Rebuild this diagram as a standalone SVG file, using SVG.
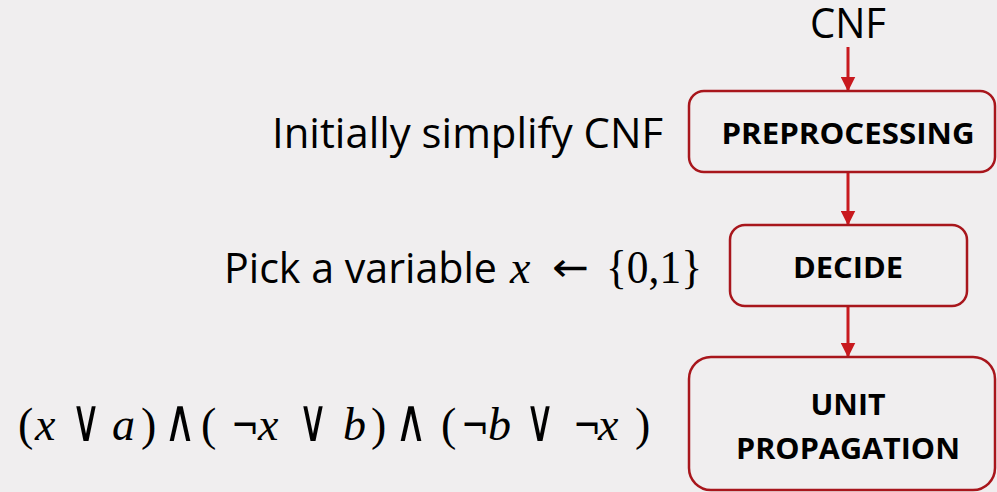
<svg xmlns="http://www.w3.org/2000/svg" width="997" height="492" viewBox="0 0 997 492">
<style>
.box{fill:none;stroke:#a8161c;stroke-width:2.5}
.lbl{font-family:"Open Sans","Liberation Sans",Arial,sans-serif;font-weight:bold;font-size:29px;fill:#000;text-anchor:middle}
.side{font-family:"Open Sans","Liberation Sans",sans-serif;font-size:42px;fill:#000}
.math{font-family:"Liberation Serif","DejaVu Serif",serif;font-size:46px;fill:#000}
.it{font-style:italic}
.op{font-family:"DejaVu Sans",sans-serif;font-size:40px;fill:#000}
.vw{font-family:"DejaVu Sans",sans-serif;font-size:60px;fill:#000;text-anchor:middle}
.conn{stroke:#c8191e;stroke-width:3;fill:none}
</style>
<defs>
<marker id="ah" viewBox="0 0 10 10" refX="9" refY="5" markerWidth="5" markerHeight="5" orient="auto" markerUnits="strokeWidth">
<path d="M0,0 L10,5 L0,10 Z" fill="#c8191e"/>
</marker>
</defs>
<rect width="997" height="492" fill="#f0eeef"/>
<g id="connectors">
<line class="conn" x1="848" y1="47" x2="848" y2="90" marker-end="url(#ah)"/>
<line class="conn" x1="848" y1="172" x2="848" y2="224" marker-end="url(#ah)"/>
<line class="conn" x1="848" y1="306" x2="848" y2="356" marker-end="url(#ah)"/>
</g>
<g id="cnf"><text class="side" x="848" y="38" text-anchor="middle" font-size="38" textLength="76" lengthAdjust="spacingAndGlyphs">CNF</text></g>
<g id="preprocessing">
<rect class="box" x="689" y="91" width="306" height="81" rx="15"/>
<text class="lbl" x="848" y="144" textLength="253" lengthAdjust="spacingAndGlyphs">PREPROCESSING</text>
</g>
<g id="decide">
<rect class="box" x="730" y="225" width="237" height="81" rx="15"/>
<text class="lbl" x="848" y="278" textLength="110" lengthAdjust="spacingAndGlyphs">DECIDE</text>
</g>
<g id="unitprop">
<rect class="box" x="689" y="357" width="306" height="133" rx="22"/>
<text class="lbl" x="848" y="415" textLength="75" lengthAdjust="spacingAndGlyphs">UNIT</text>
<text class="lbl" x="848" y="459" textLength="224" lengthAdjust="spacingAndGlyphs">PROPAGATION</text>
</g>
<g id="labels">
<text class="side" x="272" y="148" textLength="391" lengthAdjust="spacingAndGlyphs">Initially simplify CNF</text>
<text class="side" x="224" y="283" textLength="273" lengthAdjust="spacingAndGlyphs">Pick a variable</text>
<text class="math it" x="510" y="283">x</text>
<text class="op" x="552" y="281" textLength="37" lengthAdjust="spacingAndGlyphs">←</text>
<text class="math" x="606" y="283" textLength="96" lengthAdjust="spacingAndGlyphs">{0,1}</text>
</g>
<g id="formula">
<text class="math" x="18" y="440">(</text>
<text class="math it" x="35" y="440">x</text>
<text class="vw" x="86" y="441" textLength="30" lengthAdjust="spacingAndGlyphs">∨</text>
<text class="math it" x="112" y="440">a</text>
<text class="math" x="141" y="440">)</text>
<text class="vw" x="180" y="441" textLength="32" lengthAdjust="spacingAndGlyphs">∧</text>
<text class="math" x="201" y="440">(</text>
<text class="op" x="231" y="440" textLength="28" lengthAdjust="spacingAndGlyphs">¬</text>
<text class="math it" x="258" y="440">x</text>
<text class="vw" x="313" y="441" textLength="30" lengthAdjust="spacingAndGlyphs">∨</text>
<text class="math it" x="343" y="440">b</text>
<text class="math" x="371" y="440">)</text>
<text class="vw" x="411" y="441" textLength="32" lengthAdjust="spacingAndGlyphs">∧</text>
<text class="math" x="441" y="440">(</text>
<text class="op" x="461" y="440" textLength="28" lengthAdjust="spacingAndGlyphs">¬</text>
<text class="math it" x="488" y="440">b</text>
<text class="vw" x="540" y="441" textLength="30" lengthAdjust="spacingAndGlyphs">∨</text>
<text class="op" x="573" y="440" textLength="28" lengthAdjust="spacingAndGlyphs">¬</text>
<text class="math it" x="598" y="440">x</text>
<text class="math" x="635" y="440">)</text>
</g>
</svg>
